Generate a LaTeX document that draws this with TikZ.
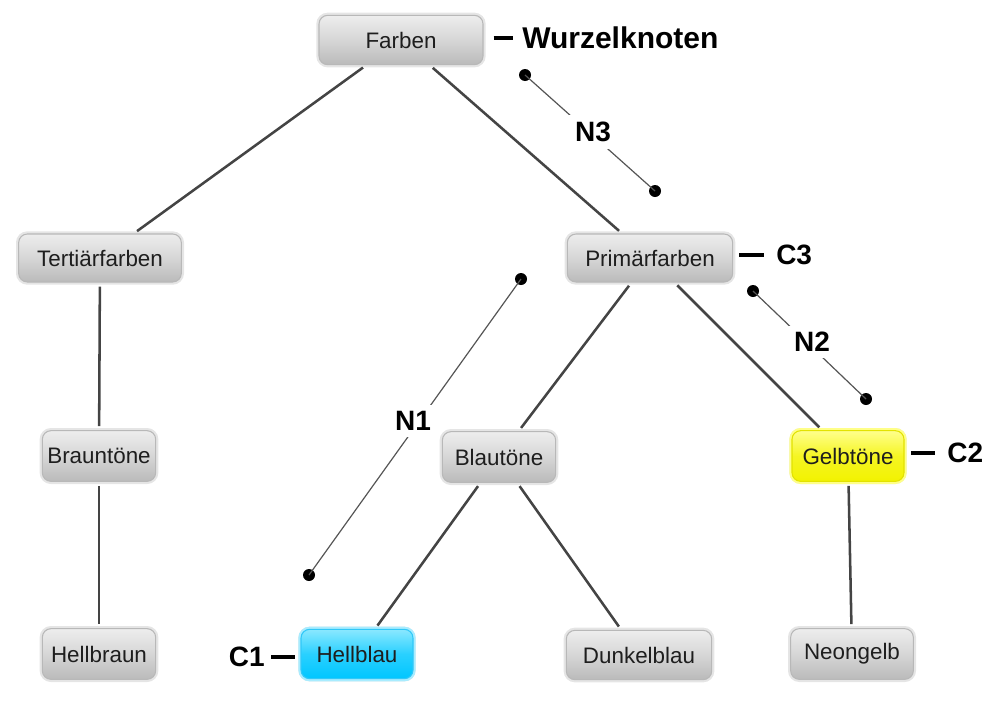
\documentclass[tikz,border=0pt]{standalone}
\usepackage{fontspec}
\setmainfont{Liberation Sans}
\definecolor{edgec}{HTML}{444444}
\definecolor{annc}{HTML}{555555}
\definecolor{txtc}{HTML}{1E1E1E}
\definecolor{cyantop}{HTML}{8AE8FF}
\definecolor{cyanbot}{HTML}{00C6FF}
\definecolor{cyanbrd}{HTML}{30C8F8}
\definecolor{cyanglow}{HTML}{A8ECFF}
\definecolor{yeltop}{HTML}{FFFF8C}
\definecolor{yelbot}{HTML}{F2F200}
\definecolor{yelbrd}{HTML}{E2E200}
\definecolor{yelglow}{HTML}{FFFF88}
\tikzset{
  box/.style={draw=black!28, line width=0.8pt, rounded corners=6.5pt,
    top color=black!7, bottom color=black!27, middle color=black!16,
    preaction={draw=black!10, line width=4pt},
    inner sep=0pt, text=txtc, font=\fontsize{16.8}{19}\selectfont},
  bluebox/.style={box, draw=cyanbrd, top color=cyantop, bottom color=cyanbot, middle color=cyanbot!70!cyantop,
    preaction={draw=cyanglow, line width=4pt}},
  yellowbox/.style={box, draw=yelbrd, top color=yeltop, bottom color=yelbot, middle color=yelbot!75!yeltop,
    preaction={draw=yelglow, line width=4pt}},
  edge/.style={draw=edgec, line width=1.9pt, shorten <=3pt, shorten >=3pt},
  annline/.style={draw=annc, line width=0.9pt},
  dot/.style={circle, fill=black, inner sep=0pt, minimum size=9pt},
  lab/.style={font=\bfseries\fontsize{21}{24}\selectfont, inner sep=0pt, text=black},
  nlab/.style={lab, fill=white, inner sep=5pt},
  dashmark/.style={draw=black, line width=3pt},
}
\begin{document}
\begin{tikzpicture}[x=0.75pt,y=-0.75pt]
\useasboundingbox (0,0) rectangle (1005,711);

% nodes
\node[box, minimum width=123pt, minimum height=37pt] (farben) at (401,40) {Farben};
\node[box, minimum width=122pt, minimum height=36pt] (tert) at (100,258) {Terti\"arfarben};
\node[box, minimum width=124pt, minimum height=36pt] (prim) at (650,258) {Prim\"arfarben};
\node[box, minimum width=85pt, minimum height=38pt] (braun) at (99,456) {Braunt\"one};
\node[box, minimum width=85pt, minimum height=38pt] (blau) at (499,457) {Blaut\"one};
\node[yellowbox, minimum width=84pt, minimum height=38pt] (gelb) at (848,456) {Gelbt\"one};
\node[box, minimum width=85pt, minimum height=38pt] (hbraun) at (99,654) {Hellbraun};
\node[bluebox, minimum width=84pt, minimum height=37pt] (hblau) at (357,654) {Hellblau};
\node[box, minimum width=109pt, minimum height=37pt] (dblau) at (639,655) {Dunkelblau};
\node[box, minimum width=92pt, minimum height=38pt] (neon) at (852,654) {Neongelb};

% tree edges
\draw[edge] (farben) -- (tert);
\draw[edge] (farben) -- (prim);
\draw[edge] (tert) -- (braun);
\draw[edge] (braun) -- (hbraun);
\draw[edge] (prim) -- (blau);
\draw[edge] (prim) -- (gelb);
\draw[edge] (blau) -- (hblau);
\draw[edge] (blau) -- (dblau);
\draw[edge] (gelb) -- (neon);

% labels
\node[lab, anchor=west, font=\bfseries\fontsize{22.5}{26}\selectfont] (wurzel) at (522,38) {Wurzelknoten};
\node[lab, anchor=west] (c3) at (776,255) {C3};
\node[lab, anchor=west] (c2) at (947,453) {C2};
\node[lab, anchor=east] (c1) at (265,657) {C1};

\draw[dashmark] ([xshift=7.5pt]farben.east |- wurzel.west) -- ([xshift=-7pt]wurzel.west);
\draw[dashmark] ([xshift=4.5pt]prim.east |- c3.west) -- ([xshift=-9pt]c3.west);
\draw[dashmark] ([xshift=5pt]gelb.east |- c2.west) -- ([xshift=-9pt]c2.west);
\draw[dashmark] ([xshift=4.5pt]c1.east) -- ([xshift=-4pt]hblau.west |- c1.east);

% N annotations
\node[dot] (n3a) at (525,75) {};
\node[dot] (n3b) at (655,191) {};
\node[dot] (n2a) at (753,291) {};
\node[dot] (n2b) at (866,399) {};
\node[dot] (n1a) at (521,279) {};
\node[dot] (n1b) at (309,575) {};
\draw[annline] (n3a.center) -- (n3b.center);
\draw[annline] (n2a.center) -- (n2b.center);
\draw[annline] (n1a.center) -- (n1b.center);
\node[nlab] (n3) at (593,132) {N3};
\node[nlab] (n2) at (812,342) {N2};
\node[nlab] (n1) at (413,421) {N1};
\end{tikzpicture}
\end{document}
